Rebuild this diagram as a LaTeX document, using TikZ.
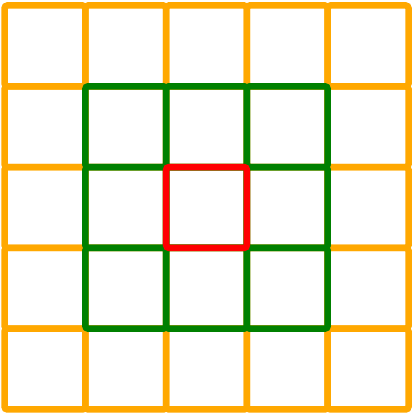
\documentclass[tikz,border=0pt]{standalone}
\usepackage{xcolor}
\usepackage{tikz}
\definecolor{ringorange}{RGB}{255, 168, 0}
\definecolor{ringgreen}{RGB}{0, 128, 0}
\definecolor{centerred}{RGB}{255, 0, 0}

\begin{document}
\begin{tikzpicture}[
    x=2cm, y=2cm,
    outercell/.style={draw=ringorange, line width=4.6pt, rounded corners=2pt},
    innercell/.style={draw=ringgreen, line width=4.6pt, rounded corners=2pt},
    centercell/.style={draw=centerred, line width=4.6pt, rounded corners=2pt}
]
    \useasboundingbox (-0.056,-0.056) rectangle (5.068,5.068);

    % outer ring of cells
    \foreach \i in {0,...,4} {
        \foreach \j in {0,...,4} {
            \draw[outercell] (\i,\j) rectangle ++(1,1);
        }
    }
    % neighbours of the centre
    \foreach \i in {1,2,3} {
        \foreach \j in {1,2,3} {
            \draw[innercell] (\i,\j) rectangle ++(1,1);
        }
    }
    % centre cell
    \draw[centercell] (2,2) rectangle ++(1,1);
\end{tikzpicture}
\end{document}
